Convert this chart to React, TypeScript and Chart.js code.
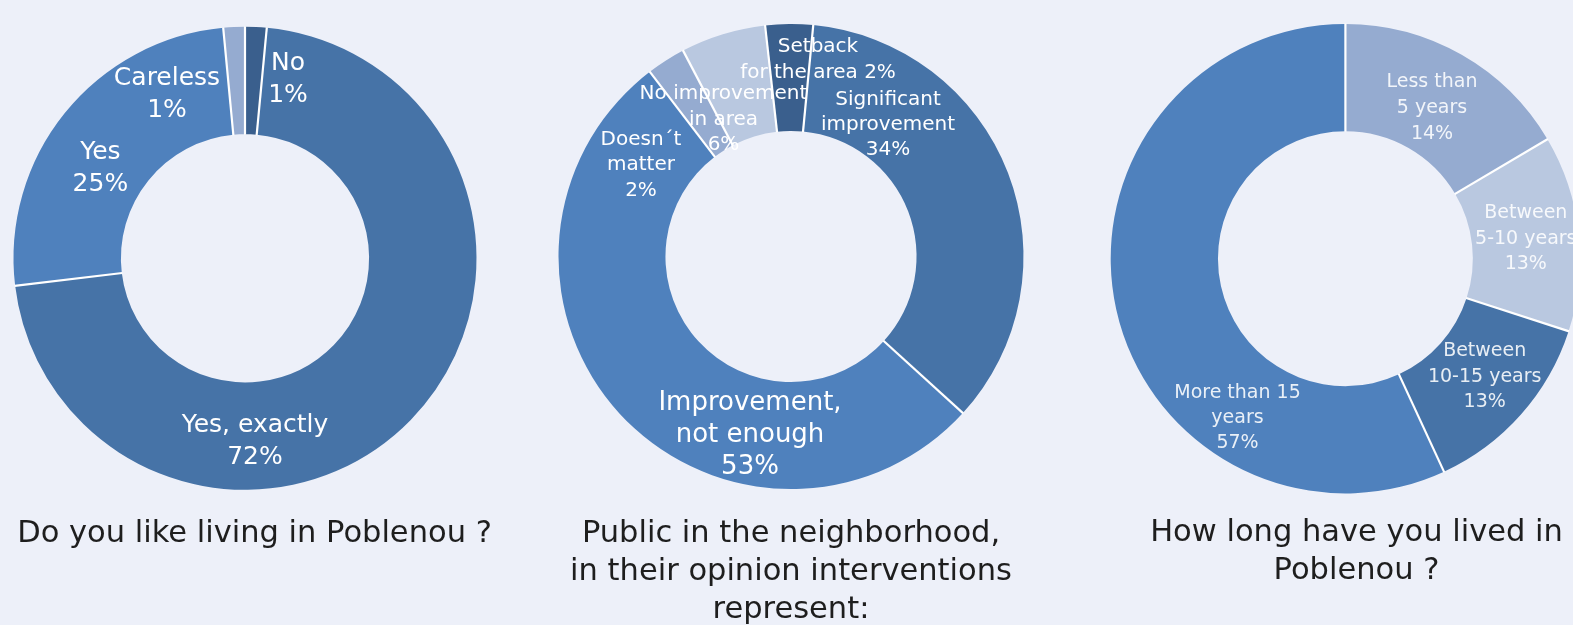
import React, { useEffect, useRef } from "react";
import { Chart, registerables } from "chart.js";

Chart.register(...registerables);

// ---------- Data ----------
// Chart 1: Do you like living in Poblenou ?
const LIKE_CATEGORIES = ["No", "Yes, exactly", "Yes", "Careless"];
const LIKE_VALUES = [1.5, 71.6, 25.4, 1.5];
const LIKE_PERCENTS = ["1%", "72%", "25%", "1%"];
const LIKE_LABEL_LINES = [["No"], ["Yes, exactly"], ["Yes"], ["Careless"]];
const LIKE_TITLE = ["Do you like living in Poblenou ?"];

// Chart 2: interventions represent
const IMPACT_CATEGORIES = [
  "Setback for the area",
  "Significant improvement",
  "Improvement, not enough",
  "Doesn´t matter",
  "No improvement in area",
];
const IMPACT_VALUES = [3.3, 35.2, 52.8, 2.7, 5.9];
const IMPACT_PERCENTS = ["2%", "34%", "53%", "2%", "6%"];
const IMPACT_LABEL_LINES = [
  ["Setback", "for the area"],
  ["Significant", "improvement"],
  ["Improvement,", "not enough"],
  ["Doesn´t", "matter"],
  ["No improvement", "in area"],
];
const IMPACT_PERCENT_INLINE = [true, false, false, false, false];
const IMPACT_TITLE = [
  "Public in the neighborhood,",
  "in their opinion interventions",
  "represent:",
];

// Chart 3: How long have you lived in Poblenou ?
const YEARS_CATEGORIES = [
  "Less than 5 years",
  "Between 5-10 years",
  "Between 10-15 years",
  "More than 15 years",
];
const YEARS_VALUES = [16.5, 13.5, 13.1, 56.9];
const YEARS_PERCENTS = ["14%", "13%", "13%", "57%"];
const YEARS_LABEL_LINES = [
  ["Less than", "5 years"],
  ["Between", "5-10 years"],
  ["Between", "10-15 years"],
  ["More than 15", "years"],
];
const YEARS_TITLE = ["How long have you lived in", "Poblenou ?"];

// ---------- Styles / layout ----------
const BG = "#EDF0F9";
const FONT = "'DejaVu Sans', 'Noto Sans', sans-serif";
const C_DARK = "#3A5F8D";
const C_MID = "#4673A7";
const C_MAIN = "#4F81BD";
const C_LIGHT = "#95ABD0";
const C_PALE = "#B9C8E0";
const PAGE_H = 625;
const SEP_WIDTH = 2.2;

type LabelPos = { dx: number; dy: number; lh: number; size: number };

type ChartCfg = {
  key: string;
  categories: string[];
  values: number[];
  lines: string[][];
  colors: string[];
  rotation: number;
  cx: number;
  cy: number;
  r: number;
  cutout: string;
  left: number;
  width: number;
  labelColor: string;
  labelPos: LabelPos[];
  title: string[];
  titleDx: number;
  titleBaseline: number;
  titleLh: number;
  titleSize: number;
};

function withPercent(lines: string[][], pcts: string[], inline?: boolean[]) {
  return lines.map((ls, i) => {
    if (inline && inline[i]) {
      const copy = ls.slice();
      copy[copy.length - 1] = copy[copy.length - 1] + " " + pcts[i];
      return copy;
    }
    return [...ls, pcts[i]];
  });
}

const CHARTS: ChartCfg[] = [
  {
    key: "like",
    categories: LIKE_CATEGORIES,
    values: LIKE_VALUES,
    lines: withPercent(LIKE_LABEL_LINES, LIKE_PERCENTS),
    colors: [C_DARK, C_MID, C_MAIN, C_LIGHT],
    rotation: 0,
    cx: 245,
    cy: 258.3,
    r: 231.5,
    cutout: "53.6%",
    left: 0,
    width: 520,
    labelColor: "#FFFFFF",
    labelPos: [
      { dx: 43, dy: -181, lh: 32, size: 25 },
      { dx: 10, dy: 181, lh: 32, size: 25 },
      { dx: -144.6, dy: -92.3, lh: 32, size: 25 },
      { dx: -78, dy: -166.6, lh: 31.7, size: 25 },
    ],
    title: LIKE_TITLE,
    titleDx: 9.5,
    titleBaseline: 541.5,
    titleLh: 38,
    titleSize: 30.5,
  },
  {
    key: "impact",
    categories: IMPACT_CATEGORIES,
    values: IMPACT_VALUES,
    lines: withPercent(IMPACT_LABEL_LINES, IMPACT_PERCENTS, IMPACT_PERCENT_INLINE),
    colors: [C_DARK, C_MID, C_MAIN, C_LIGHT, C_PALE],
    rotation: -6.4,
    cx: 791,
    cy: 256.5,
    r: 232.5,
    cutout: "54%",
    left: 530,
    width: 530,
    labelColor: "#FFFFFF",
    labelPos: [
      { dx: 27, dy: -199.1, lh: 25.8, size: 20 },
      { dx: 97, dy: -133.5, lh: 25.2, size: 20 },
      { dx: -41, dy: 175.9, lh: 32.1, size: 26 },
      { dx: -150, dy: -93.5, lh: 25.6, size: 20 },
      { dx: -67.5, dy: -139, lh: 25.3, size: 20 },
    ],
    title: IMPACT_TITLE,
    titleDx: 0,
    titleBaseline: 541.5,
    titleLh: 38,
    titleSize: 30.5,
  },
  {
    key: "years",
    categories: YEARS_CATEGORIES,
    values: YEARS_VALUES,
    lines: withPercent(YEARS_LABEL_LINES, YEARS_PERCENTS),
    colors: [C_LIGHT, C_PALE, C_MID, C_MAIN],
    rotation: 0,
    cx: 1345.4,
    cy: 258.7,
    r: 234.7,
    cutout: "54.3%",
    left: 1070,
    width: 520,
    labelColor: "rgba(255,255,255,0.88)",
    labelPos: [
      { dx: 86.6, dy: -152.7, lh: 26.2, size: 19 },
      { dx: 180.4, dy: -22, lh: 25.5, size: 19 },
      { dx: 139.3, dy: 116, lh: 25.3, size: 19 },
      { dx: -107.9, dy: 157.1, lh: 25, size: 19 },
    ],
    title: YEARS_TITLE,
    titleDx: 11.1,
    titleBaseline: 540.5,
    titleLh: 38,
    titleSize: 30.5,
  },
];

function makeOverlay(cfg: ChartCfg) {
  return {
    id: "overlay_" + cfg.key,
    afterDatasetsDraw(chart: any) {
      // white separators between slices, taken from the arc geometry
      const ctx: CanvasRenderingContext2D = chart.ctx;
      const arcs = chart.getDatasetMeta(0).data;
      ctx.save();
      ctx.strokeStyle = "#FFFFFF";
      ctx.lineWidth = SEP_WIDTH;
      ctx.lineCap = "butt";
      arcs.forEach((a: any) => {
        const ang = a.startAngle;
        const c = Math.cos(ang);
        const s = Math.sin(ang);
        ctx.beginPath();
        ctx.moveTo(a.x + c * (a.innerRadius - 0.5), a.y + s * (a.innerRadius - 0.5));
        ctx.lineTo(a.x + c * (a.outerRadius + 0.5), a.y + s * (a.outerRadius + 0.5));
        ctx.stroke();
      });
      ctx.restore();
    },
    afterDraw(chart: any) {
      const ctx: CanvasRenderingContext2D = chart.ctx;
      const arc = chart.getDatasetMeta(0).data[0];
      const cx = arc.x;
      const cy = arc.y;
      ctx.save();
      ctx.textAlign = "center";
      ctx.textBaseline = "alphabetic";
      cfg.lines.forEach((lines, i) => {
        const p = cfg.labelPos[i];
        ctx.font = `${p.size}px ${FONT}`;
        ctx.fillStyle = cfg.labelColor;
        const n = lines.length;
        lines.forEach((t, k) => {
          const y = cy + p.dy + (k - (n - 1) / 2) * p.lh + (0.729 * p.size) / 2;
          ctx.fillText(t, cx + p.dx, y);
        });
      });
      ctx.font = `${cfg.titleSize}px ${FONT}`;
      ctx.fillStyle = "#1E1E1E";
      cfg.title.forEach((t, k) => {
        ctx.fillText(t, cx + cfg.titleDx, cfg.titleBaseline + k * cfg.titleLh);
      });
      ctx.restore();
    },
  };
}

function Donut({ cfg }: { cfg: ChartCfg }) {
  const ref = useRef<HTMLCanvasElement | null>(null);
  useEffect(() => {
    if (!ref.current) return;
    const half = cfg.r;
    const padding = {
      left: cfg.cx - cfg.left - half,
      right: cfg.left + cfg.width - (cfg.cx + half),
      top: cfg.cy - half,
      bottom: PAGE_H - (cfg.cy + half),
    };
    const chart = new Chart(ref.current, {
      type: "doughnut",
      data: {
        labels: cfg.categories,
        datasets: [
          {
            data: cfg.values,
            backgroundColor: cfg.colors,
            borderWidth: 0,
            hoverOffset: 0,
          },
        ],
      },
      options: {
        responsive: false,
        animation: false,
        devicePixelRatio: 1,
        events: [],
        cutout: cfg.cutout,
        rotation: cfg.rotation,
        layout: { padding },
        plugins: {
          legend: { display: false },
          tooltip: { enabled: false },
          title: { display: false },
        },
      },
      plugins: [makeOverlay(cfg)],
    } as any);
    return () => chart.destroy();
  }, [cfg]);
  return (
    <canvas
      ref={ref}
      width={cfg.width}
      height={PAGE_H}
      style={{
        position: "absolute",
        left: cfg.left,
        top: 0,
        width: cfg.width,
        height: PAGE_H,
      }}
    />
  );
}

export default function App() {
  return (
    <div
      style={{
        position: "fixed",
        left: 0,
        top: 0,
        width: 1573,
        height: PAGE_H,
        overflow: "hidden",
        background: BG,
      }}
    >
      {CHARTS.map((c) => (
        <Donut key={c.key} cfg={c} />
      ))}
    </div>
  );
}
